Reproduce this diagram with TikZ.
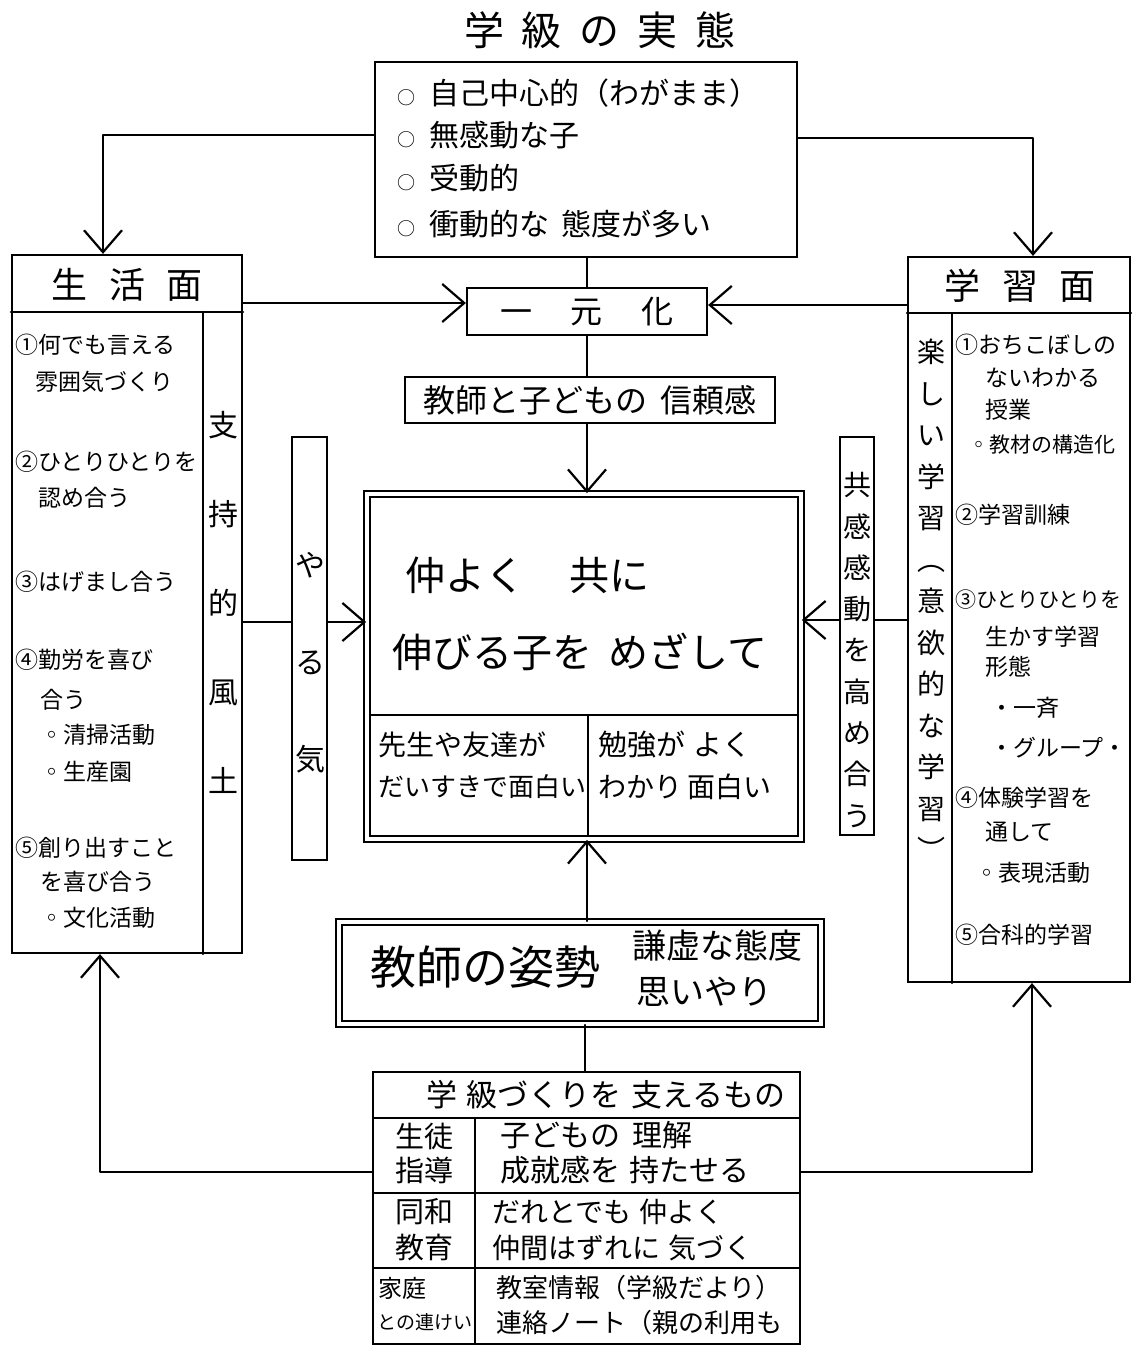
\documentclass[tikz,border=0pt]{standalone}
\usepackage{fontspec}
\setmainfont{Noto Sans CJK JP}
\usetikzlibrary{arrows.meta}
\newcommand\myfs[2]{\fontsize{#1}{#2}\selectfont}
\newcommand\smcirc{{\myfs{18}{20}○}\hspace{14pt}}
\begin{document}
\begin{tikzpicture}[x=1pt,y=-1pt,
  ln/.style={line width=2.2pt, line cap=round, line join=round},
  arr/.style={ln,-{Straight Barb[length=22pt,width=38pt]}},
  box/.style={draw, line width=2.2pt, inner sep=0pt, fill=white},
  dbox/.style={draw, line width=1.8pt, double, double distance=4pt, inner sep=0pt, fill=white},
  txt/.style={inner sep=0pt, anchor=west, align=left},
  ctxt/.style={inner sep=0pt, align=center},
]
\useasboundingbox[fill=white] (0,0) rectangle (1141,1346);

% title
\node[ctxt, font=\myfs{40}{48}] (title) at (600,30) {学\hspace{.45em}級\hspace{.45em}の\hspace{.45em}実\hspace{.45em}態};

% top box
\node[box, minimum width=422pt, minimum height=195pt] (topbox) at (586,159.5) {};
\node[txt, font=\myfs{30}{36}] (t1) at (397,93) {\smcirc 自己中心的（わがまま）};
\node[txt, font=\myfs{30}{36}] (t2) at (397,135) {\smcirc 無感動な子};
\node[txt, font=\myfs{30}{36}] (t3) at (397,178) {\smcirc 受動的};
\node[txt, font=\myfs{30}{36}] (t4) at (397,224) {\smcirc 衝動的な\hspace{.4em}態度が多い};

% left box
\node[box, minimum width=230pt, minimum height=698pt] (life) at (127,604) {};
\draw[ln] (life.north west |- 0,312) -- (life.north east |- 0,312);
\draw[ln] (203,312) -- (life.south -| 203,0);
\node[ctxt, font=\myfs{36}{40}] (lifeh) at (127,285) {生\hspace{.6em}活\hspace{.6em}面};
\node[txt, font=\myfs{23}{28}] (l1a) at (15,345) {①何でも言える};
\node[txt, font=\myfs{23}{28}] (l1b) at (35,382) {雰囲気づくり};
\node[txt, font=\myfs{23}{28}] (l2a) at (15,462) {②ひとりひとりを};
\node[txt, font=\myfs{23}{28}] (l2b) at (38,498) {認め合う};
\node[txt, font=\myfs{23}{28}] (l3) at (15,582) {③はげまし合う};
\node[txt, font=\myfs{23}{28}] (l4a) at (15,660) {④勤労を喜び};
\node[txt, font=\myfs{23}{28}] (l4b) at (40,700) {合う};
\node[txt, font=\myfs{23}{28}] (l4c) at (40,735) {◦清掃活動};
\node[txt, font=\myfs{23}{28}] (l4d) at (40,772) {◦生産園};
\node[txt, font=\myfs{23}{28}] (l5a) at (15,848) {⑤創り出すこと};
\node[txt, font=\myfs{23}{28}] (l5b) at (40,882) {を喜び合う};
\node[txt, font=\myfs{23}{28}] (l5c) at (40,918) {◦文化活動};
\node[ctxt, font=\myfs{30}{89}] (shiji) at (223,602) {支\\持\\的\\風\\土};

% right box
\node[box, minimum width=222pt, minimum height=725pt] (study) at (1019,619.5) {};
\draw[ln] (study.north west |- 0,313) -- (study.north east |- 0,313);
\draw[ln] (952,313) -- (study.south -| 952,0);
\node[ctxt, font=\myfs{36}{40}] (studyh) at (1020,286) {学\hspace{.6em}習\hspace{.6em}面};
\node[txt, font=\myfs{23}{28}] (s1a) at (955,345) {①おちこぼしの};
\node[txt, font=\myfs{23}{28}] (s1b) at (985,378) {ないわかる};
\node[txt, font=\myfs{23}{28}] (s1c) at (985,410) {授業};
\node[txt, font=\myfs{21}{28}] (s1d) at (968,445) {◦教材の構造化};
\node[txt, font=\myfs{23}{28}] (s2) at (955,515) {②学習訓練};
\node[txt, font=\myfs{21}{28}] (s3a) at (955,600) {③ひとりひとりを};
\node[txt, font=\myfs{23}{28}] (s3b) at (985,637) {生かす学習};
\node[txt, font=\myfs{23}{28}] (s3c) at (985,667) {形態};
\node[txt, font=\myfs{23}{28}] (s3d) at (990,708) {・一斉};
\node[txt, font=\myfs{23}{28}] (s3e) at (990,748) {・グループ・};
\node[txt, font=\myfs{23}{28}] (s4a) at (955,798) {④体験学習を};
\node[txt, font=\myfs{23}{28}] (s4b) at (985,832) {通して};
\node[txt, font=\myfs{23}{28}] (s4c) at (975,873) {◦表現活動};
\node[txt, font=\myfs{23}{28}] (s5) at (955,935) {⑤合科的学習};
\node[ctxt, font=\myfs{28}{41.5}] (tanoshii) at (931,600) {楽\\し\\い\\学\\習\\︵\\意\\欲\\的\\な\\学\\習\\︶};

% unification
\node[box, minimum width=240pt, minimum height=47pt, font=\myfs{32}{36}] (ichi) at (587,311.5) {一\hspace{1.2em}元\hspace{1.2em}化};
\node[box, minimum width=370pt, minimum height=46pt, font=\myfs{32}{36}] (trust) at (590,400) {教師と子どもの\hspace{.4em}信頼感};

% goal box
\node[dbox, minimum width=434pt, minimum height=345pt] (goal) at (584,666.5) {};
\draw[ln] (371,715) -- (797,715);
\draw[ln] (588,715) -- (588,835);
\node[txt, font=\myfs{40}{48}] (g1) at (405,575) {仲よく\hspace{1.1em}共に};
\node[txt, font=\myfs{40}{48}] (g2) at (392,652) {伸びる子を\hspace{.4em}めざして};
\node[txt, font=\myfs{28}{34}] (c1a) at (378,745) {先生や友達が};
\node[txt, font=\myfs{26}{34}] (c1b) at (378,787) {だいすきで面白い};
\node[txt, font=\myfs{29}{34}] (c2a) at (598,745) {勉強が\hspace{.3em}よく};
\node[txt, font=\myfs{28}{34}] (c2b) at (598,787) {わかり\hspace{.2em}面白い};

% teacher box
\node[dbox, minimum width=482pt, minimum height=102pt] (teacher) at (580,973) {};
\node[ctxt, font=\myfs{46}{50}] (tt1) at (485,967) {教師の姿勢};
\node[txt, font=\myfs{34}{40}] (tt2) at (632,946) {謙虚な態度};
\node[txt, font=\myfs{34}{40}] (tt3) at (636,992) {思いやり};

% support table
\node[box, minimum width=427pt, minimum height=272pt] (support) at (586.5,1208) {};
\draw[ln] (373,1118) -- (800,1118);
\draw[ln] (373,1193) -- (800,1193);
\draw[ln] (373,1268) -- (800,1268);
\draw[ln] (475,1118) -- (475,1344);
\node[ctxt, font=\myfs{31}{36}] (sh) at (606,1095) {学\hspace{.3em}級づくりを\hspace{.3em}支えるもの};
\node[ctxt, font=\myfs{29}{34}] (r1l) at (424,1153) {生徒\\指導};
\node[txt, font=\myfs{30}{35}] (r1r) at (500,1153) {子どもの\hspace{.4em}理解\\成就感を\hspace{.3em}持たせる};
\node[ctxt, font=\myfs{29}{36}] (r2l) at (424,1230) {同和\\教育};
\node[txt, font=\myfs{28}{36}] (r2r) at (492,1230) {だれとでも\hspace{.3em}仲よく\\仲間はずれに\hspace{.3em}気づく};
\node[txt, font=\myfs{24}{28}] (r3la) at (378,1288) {家庭};
\node[txt, font=\myfs{19}{24}] (r3lb) at (377,1322) {との連けい};
\node[txt, font=\myfs{26}{35}] (r3r) at (496,1305) {教室情報（学級だより）\\連絡ノート（親の利用も};

% connectors
\draw[arr] (topbox.west |- 0,135) -| (life.north -| 103,0);
\draw[arr] (topbox.east |- 0,138) -| (study.north -| 1033,0);
\draw[arr] (life.east |- 0,303) -- (ichi.west |- 0,303);
\draw[arr] (study.west |- 0,305) -- (ichi.east |- 0,305);
\draw[ln] (topbox.south -| ichi.north) -- (ichi.north);
\draw[ln] (ichi.south) -- (trust.north -| ichi.south);
\draw[arr] (trust.south -| ichi.south) -- (goal.north -| ichi.south);
\draw[arr] (teacher.north -| ichi.south) -- (goal.south -| ichi.south);
\draw[ln] (support.north -| 585,0) -- (teacher.south -| 585,0);
\draw[arr] (support.west |- 0,1172) -| (life.south -| 100,0);
\draw[arr] (support.east |- 0,1172) -| (study.south -| 1032,0);
\draw[arr] (life.east |- 0,622) -- (goal.west |- 0,622);
\draw[arr] (study.west |- 0,620) -- (goal.east |- 0,620);

% vertical label boxes (over the connectors)
\node[box, minimum width=35pt, minimum height=423pt] (yaruki) at (309.5,648.5) {};
\node[ctxt, font=\myfs{30}{97}] (yarukit) at (310,663) {や\\る\\気};
\node[box, minimum width=34pt, minimum height=398pt] (kyokan) at (857,636) {};
\node[ctxt, font=\myfs{28}{41.3}] (kyokant) at (857,650) {共\\感\\感\\動\\を\\高\\め\\合\\う};
\end{tikzpicture}
\end{document}
